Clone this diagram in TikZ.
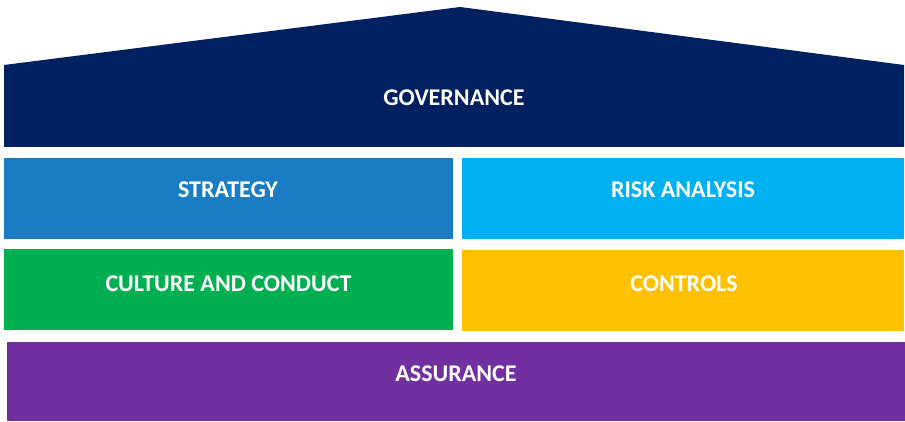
\documentclass[tikz,border=0pt]{standalone}
\usepackage{fontspec}
\setmainfont{Carlito}
\definecolor{gov}{HTML}{002060}
\definecolor{strat}{HTML}{1A7DC4}
\definecolor{risk}{HTML}{00B0F0}
\definecolor{cult}{HTML}{00B050}
\definecolor{ctrl}{HTML}{FFC000}
\definecolor{assu}{HTML}{7030A0}
\tikzset{
  lbl/.style={text=white, font=\fontsize{24}{28}\selectfont\bfseries, anchor=base, inner sep=0pt},
}
\begin{document}
\begin{tikzpicture}[x=1pt,y=-1pt]
\useasboundingbox (0,0) rectangle (905,422);
\fill[gov] (4,147) -- (4,65) -- (460,7) -- (904,65) -- (904,147) -- cycle;
\fill[strat] (4,158) rectangle (453,239);
\fill[risk] (462,158) rectangle (904,239);
\fill[cult] (4,249) rectangle (453,330);
\fill[ctrl] (462,250) rectangle (904,331);
\fill[assu] (7,342) rectangle (905,421);
\node[lbl] (g) at (454,106) {GOVERNANCE};
\node[lbl] (s) at (228,198) {STRATEGY};
\node[lbl] (r) at (683,198) {RISK ANALYSIS};
\node[lbl] (c) at (228.5,291) {CULTURE AND CONDUCT};
\node[lbl] (k) at (684,291) {CONTROLS};
\node[lbl] (a) at (456,381) {ASSURANCE};
\end{tikzpicture}
\end{document}
